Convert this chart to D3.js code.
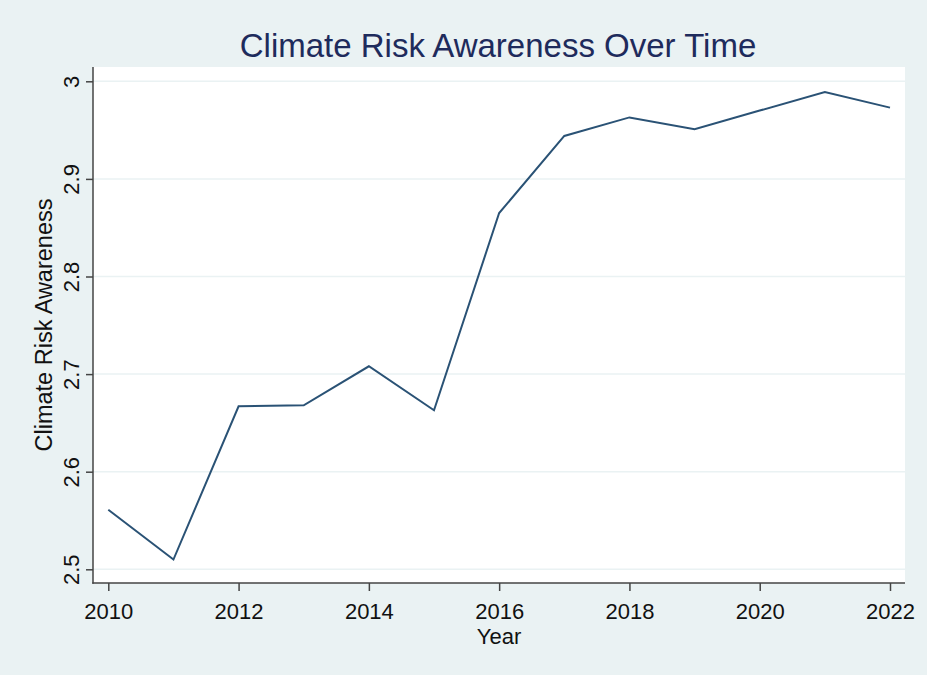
<!DOCTYPE html>
<html>
<head>
<meta charset="utf-8">
<script src="https://cdn.jsdelivr.net/npm/d3@7"></script>
<style>
  html, body { margin: 0; padding: 0; background: #eaf2f3; }
  svg { display: block; }
  text { font-family: "Liberation Sans", Arial, sans-serif; }
</style>
</head>
<body>
<svg id="chart" width="927" height="675"></svg>
<script>
// Data
const years = [2010, 2011, 2012, 2013, 2014, 2015, 2016, 2017, 2018, 2019, 2020, 2021, 2022];
const awareness = [2.561, 2.510, 2.667, 2.668, 2.708, 2.663, 2.865, 2.944, 2.963, 2.951, 2.970, 2.989, 2.973];
const xTicks = [2010, 2012, 2014, 2016, 2018, 2020, 2022];
const yTicks = [2.5, 2.6, 2.7, 2.8, 2.9, 3.0];
const titleText = "Climate Risk Awareness Over Time";
const xTitle = "Year";
const yTitle = "Climate Risk Awareness";

const W = 927, H = 675;
const plot = { left: 93, right: 905, top: 67, bottom: 583 };

const svg = d3.select("#chart");

svg.append("rect").attr("x", 0).attr("y", 0).attr("width", W).attr("height", H).attr("fill", "#eaf2f3");
svg.append("rect")
  .attr("x", plot.left).attr("y", plot.top)
  .attr("width", plot.right - plot.left).attr("height", plot.bottom - plot.top)
  .attr("fill", "#ffffff");

const x = d3.scaleLinear().domain([2010, 2022]).range([108.3, 890]);
const y = d3.scaleLinear().domain([2.5, 3.0]).range([569.3, 81.3]);

// gridlines
svg.append("g").selectAll("line").data(yTicks).join("line")
  .attr("x1", plot.left).attr("x2", plot.right)
  .attr("y1", d => y(d)).attr("y2", d => y(d))
  .attr("stroke", "#eaf2f3").attr("stroke-width", 1.5);

// Y axis
const yAxis = d3.axisLeft(y).tickValues(yTicks).tickSize(7).tickFormat(d => d3.format("")(+d.toFixed(1)));
const gy = svg.append("g").attr("transform", `translate(${plot.left},0)`).call(yAxis);
gy.select(".domain").remove();
gy.selectAll(".tick line").attr("stroke", "#444").attr("stroke-width", 1.5);
gy.selectAll(".tick text")
  .attr("x", null).attr("dy", null)
  .attr("transform", "translate(-14,0) rotate(-90)")
  .attr("text-anchor", "middle")
  .attr("font-size", 22)
  .attr("font-family", "Liberation Sans, Arial, sans-serif")
  .attr("fill", "#111");

// X axis
const xAxis = d3.axisBottom(x).tickValues(xTicks).tickSize(8).tickFormat(d3.format("d"));
const gx = svg.append("g").attr("transform", `translate(0,${plot.bottom})`).call(xAxis);
gx.select(".domain").remove();
gx.selectAll(".tick line").attr("stroke", "#444").attr("stroke-width", 1.5);
gx.selectAll(".tick text")
  .attr("y", 35.5).attr("dy", null)
  .attr("font-size", 22)
  .attr("font-family", "Liberation Sans, Arial, sans-serif")
  .attr("fill", "#111");

// axis lines
svg.append("line").attr("x1", plot.left).attr("x2", plot.left).attr("y1", plot.top).attr("y2", plot.bottom + 0.75)
  .attr("stroke", "#444").attr("stroke-width", 1.5);
svg.append("line").attr("x1", plot.left - 0.75).attr("x2", plot.right).attr("y1", plot.bottom).attr("y2", plot.bottom)
  .attr("stroke", "#444").attr("stroke-width", 1.5);

// line
const line = d3.line().x((d, i) => x(years[i])).y(d => y(d));
svg.append("path").datum(awareness)
  .attr("d", line)
  .attr("fill", "none")
  .attr("stroke", "#2a5275")
  .attr("stroke-width", 2)
  .attr("stroke-linejoin", "miter");

// titles
svg.append("text").attr("x", 498).attr("y", 57).attr("text-anchor", "middle")
  .attr("font-size", 33).attr("fill", "#1e2b5c").text(titleText);
svg.append("text").attr("x", (plot.left + plot.right) / 2 + 0).attr("y", 644).attr("text-anchor", "middle")
  .attr("font-size", 22).attr("fill", "#111").text(xTitle);
svg.append("text").attr("transform", `translate(52,${(plot.top + plot.bottom) / 2}) rotate(-90)`)
  .attr("text-anchor", "middle")
  .attr("font-size", 23.5).attr("fill", "#111").text(yTitle);
</script>
</body>
</html>
